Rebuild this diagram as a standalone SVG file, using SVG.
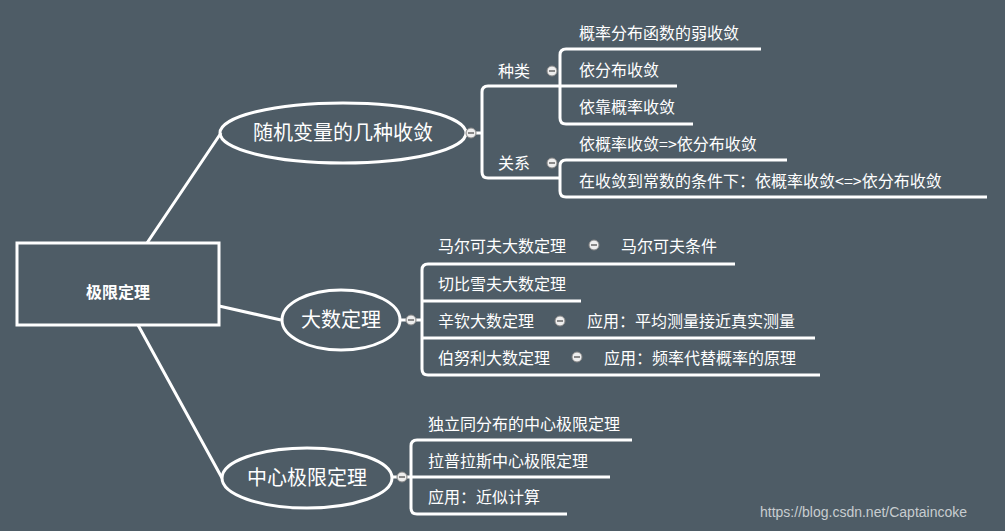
<svg xmlns="http://www.w3.org/2000/svg" width="1005" height="531" viewBox="0 0 1005 531">
<style>
.ln{fill:none;stroke:#fff;stroke-width:3;stroke-linejoin:round}
.nd{fill:none;stroke:#fff;stroke-width:3}
.t{font-family:"Noto Sans CJK SC","Liberation Sans",sans-serif;fill:#fff;font-size:16px}
.b{font-size:20px;text-anchor:middle}
.dot{fill:#eee;stroke:#888;stroke-width:1}
</style>
<defs><g id="d"><circle r="5" class="dot"/><line x1="-3" x2="3" stroke="#666" stroke-width="1.5"/></g></defs>
<rect width="1005" height="531" fill="#4e5c66"/>
<g id="connectors">
<path class="ln" d="M147 243L221 133M219 306L281 320M138 325L222 478"/>
<path class="ln" d="M466 133H482M560 86H488Q482 86 482 92V172Q482 178 488 178H560"/>
<path class="ln" d="M761 49H566Q560 49 560 55V118Q560 124 566 124H693M560 86H677"/>
<path class="ln" d="M787 160H566Q560 160 560 166V191Q560 197 566 197H987"/>
<path class="ln" d="M400 320H422M735 264H428Q422 264 422 270V369Q422 375 428 375H820M422 301H581M422 338H815"/>
<path class="ln" d="M393 477H411M632 440H417Q411 440 411 446V508Q411 514 417 514H567M411 477H610"/>
</g>
<g id="root"><rect class="nd" x="17" y="243" width="202" height="82"/><text class="t" x="118" y="298" text-anchor="middle" font-size="30" font-weight="bold">极限定理</text></g>
<g id="n1"><ellipse class="nd" cx="343" cy="133" rx="123" ry="30"/><text class="t b" x="343" y="140">随机变量的几种收敛</text><use href="#d" x="471" y="133"/></g>
<g id="n2"><ellipse class="nd" cx="341" cy="320" rx="59" ry="30"/><text class="t b" x="341" y="327">大数定理</text><use href="#d" x="411" y="320"/></g>
<g id="n3"><ellipse class="nd" cx="307" cy="478" rx="85" ry="30"/><text class="t b" x="307" y="485">中心极限定理</text><use href="#d" x="402" y="477"/></g>
<g id="zl"><text class="t" x="498" y="77">种类</text><use href="#d" x="552" y="71"/></g>
<g id="gx"><text class="t" x="498" y="169">关系</text><use href="#d" x="552" y="163"/></g>
<g id="leaves1">
<text class="t" x="579" y="39">概率分布函数的弱收敛</text>
<text class="t" x="579" y="76">依分布收敛</text>
<text class="t" x="579" y="113">依靠概率收敛</text>
<text class="t" x="579" y="150">依概率收敛=&gt;依分布收敛</text>
<text class="t" x="579" y="187">在收敛到常数的条件下：依概率收敛&lt;=&gt;依分布收敛</text>
</g>
<g id="leaves2">
<text class="t" x="438" y="252">马尔可夫大数定理</text><use href="#d" x="594" y="245"/><text class="t" x="621" y="252">马尔可夫条件</text>
<text class="t" x="438" y="290">切比雪夫大数定理</text>
<text class="t" x="438" y="327">辛钦大数定理</text><use href="#d" x="560" y="321"/><text class="t" x="587" y="327">应用：平均测量接近真实测量</text>
<text class="t" x="438" y="364">伯努利大数定理</text><use href="#d" x="577" y="357"/><text class="t" x="604" y="364">应用：频率代替概率的原理</text>
</g>
<g id="leaves3">
<text class="t" x="428" y="430">独立同分布的中心极限定理</text>
<text class="t" x="428" y="467">拉普拉斯中心极限定理</text>
<text class="t" x="428" y="503">应用：近似计算</text>
</g>
<text x="760" y="517" font-family="Liberation Sans,sans-serif" font-size="14" fill="#c8cdd0">https://blog.csdn.net/Captaincoke</text>
</svg>
